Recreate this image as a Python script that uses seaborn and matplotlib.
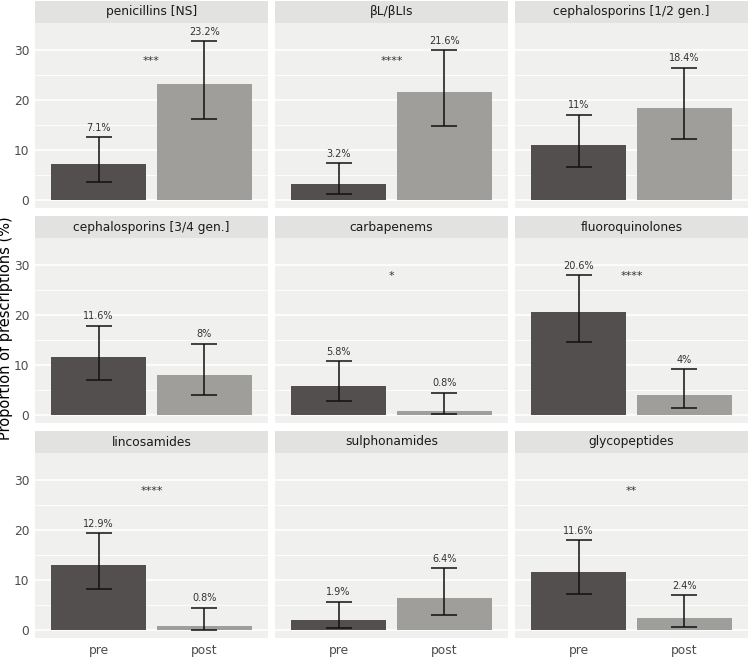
import matplotlib
matplotlib.use("Agg")
import matplotlib.pyplot as plt
import seaborn as sns
import pandas as pd
from matplotlib.patches import Rectangle

drugs = ["penicillins [NS]", "βL/βLIs", "cephalosporins [1/2 gen.]",
         "cephalosporins [3/4 gen.]", "carbapenems", "fluoroquinolones",
         "lincosamides", "sulphonamides", "glycopeptides"]
periods = ["pre", "post"]
pre_vals = [7.1, 3.2, 11, 11.6, 5.8, 20.6, 12.9, 1.9, 11.6]
post_vals = [23.2, 21.6, 18.4, 8, 0.8, 4, 0.8, 6.4, 2.4]
pre_lo = [3.6, 1.1, 6.5, 7.0, 2.7, 14.6, 8.1, 0.4, 7.1]
pre_hi = [12.5, 7.3, 17.0, 17.8, 10.7, 27.9, 19.3, 5.6, 17.9]
post_lo = [16.2, 14.8, 12.1, 3.9, 0.1, 1.3, 0.05, 2.9, 0.5]
post_hi = [31.7, 29.9, 26.4, 14.2, 4.4, 9.1, 4.4, 12.3, 6.9]
stars = ["***", "****", "", "", "*", "****", "****", "", "**"]

rows = []
for i, d in enumerate(drugs):
    rows.append({"drug": d, "period": "pre", "value": pre_vals[i], "lo": pre_lo[i], "hi": pre_hi[i]})
    rows.append({"drug": d, "period": "post", "value": post_vals[i], "lo": post_lo[i], "hi": post_hi[i]})
df = pd.DataFrame(rows)

sns.set_theme(style="white")
plt.rcParams["font.family"] = ["DejaVu Sans"]

palette = {"pre": "#524f4e", "post": "#a19e9a"}
panel_bg = "#f0f0ef"
strip_bg = "#e2e2e0"

W, H = 750, 657
fig = plt.figure(figsize=(W / 100, H / 100), dpi=100)

col_left = [35, 275, 515]
panel_w = 233
row_top = [23, 238, 453]  # top of plotting area (px), strip sits above
panel_h = 185
strip_h = 22

for i, d in enumerate(drugs):
    r, c = divmod(i, 3)
    ax = fig.add_axes([col_left[c] / W, 1 - (row_top[r] + panel_h) / H,
                       panel_w / W, panel_h / H])
    ax.set_facecolor(panel_bg)
    sub = df[df["drug"] == d]
    ax.set_axisbelow(True)
    for y in [5, 15, 25]:
        ax.axhline(y, color="white", lw=0.6, zorder=0)
    for y in [0, 10, 20, 30]:
        ax.axhline(y, color="white", lw=1.2, zorder=0)
    sns.barplot(data=sub, x="period", y="value", hue="period", order=periods,
                palette=palette, width=0.9, linewidth=0, errorbar=None,
                legend=False, ax=ax, zorder=2)
    xs = range(len(periods))
    vals = sub["value"].to_numpy()
    lo = sub["lo"].to_numpy()
    hi = sub["hi"].to_numpy()
    ax.errorbar(list(xs), vals, yerr=[vals - lo, hi - vals], fmt="none",
                ecolor="#111111", elinewidth=1.1, capsize=9.4, capthick=1.1, zorder=3)
    for x, v, h in zip(xs, vals, hi):
        ax.text(x, h + 0.9, f"{v:g}%", ha="center", va="bottom",
                fontsize=7, color="#333333")
    if stars[i]:
        ax.text(0.5, 27.2, stars[i], ha="center", va="baseline",
                fontsize=8, color="#333333")
    ax.set_xlim(-0.6, 1.6)
    ax.set_ylim(-1.65, 35.4)
    ax.set_yticks([0, 10, 20, 30])
    for s in ax.spines.values():
        s.set_visible(False)
    ax.set_xlabel("")
    ax.set_ylabel("")
    ax.tick_params(axis="both", length=2.5, color="#333333", labelsize=8.8,
                   labelcolor="#4d4d4d", pad=1.5)
    if c != 0:
        ax.tick_params(axis="y", labelleft=False, length=0)
    if r != 2:
        ax.tick_params(axis="x", labelbottom=False, length=0)
    ax.add_patch(Rectangle((0, 1), 1, strip_h / panel_h, transform=ax.transAxes,
                           facecolor=strip_bg, edgecolor="none", clip_on=False))
    ax.text(0.5, 1 + strip_h / panel_h / 2, d, transform=ax.transAxes,
            ha="center", va="center", fontsize=8.8, color="#1a1a1a")

fig.text(6 / W, 0.5, "Proportion of prescriptions (%)", rotation=90,
         ha="center", va="center", fontsize=10.5, color="black")

fig.savefig("out.png", dpi=100, facecolor="white")
